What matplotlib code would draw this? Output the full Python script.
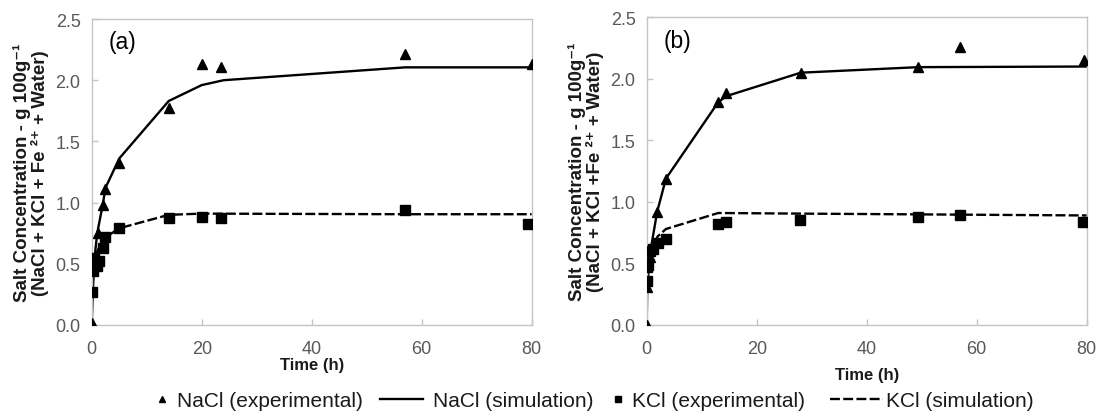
import matplotlib
matplotlib.use("Agg")
import matplotlib.pyplot as plt

plt.rcParams['font.family'] = ['Liberation Sans', 'DejaVu Sans']

# ---------------- data ----------------
# Panel (a)
a_nacl_exp_t = [0, 0.5, 1.2, 2.0, 2.5, 5.0, 14.0, 20.0, 23.5, 57.0, 80.0]
a_nacl_exp_c = [0.02, 0.55, 0.75, 0.98, 1.11, 1.32, 1.77, 2.13, 2.105, 2.21, 2.13]
a_nacl_sim_t = [0, 0.4, 1.0, 2.0, 2.5, 5.0, 14.0, 20.0, 24.0, 57.0, 80.0]
a_nacl_sim_c = [0.0, 0.50, 0.75, 0.98, 1.12, 1.36, 1.83, 1.96, 2.0, 2.105, 2.105]
a_kcl_exp_t = [0, 0.25, 0.5, 0.8, 1.0, 1.3, 2.0, 2.4, 5.0, 14.0, 20.0, 23.5, 57.0, 79.4]
a_kcl_exp_c = [0.27, 0.44, 0.55, 0.50, 0.48, 0.52, 0.63, 0.72, 0.79, 0.875, 0.885, 0.875, 0.94, 0.825]
a_kcl_sim_t = [0, 0.5, 1.0, 2.0, 5.0, 14.0, 20.0, 57.0, 80.0]
a_kcl_sim_c = [0.25, 0.50, 0.60, 0.70, 0.79, 0.90, 0.91, 0.905, 0.905]

# Panel (b)
b_nacl_exp_t = [0, 0.1, 0.6, 1.9, 3.5, 13.0, 14.5, 28.0, 49.4, 57.0, 79.5]
b_nacl_exp_c = [0.0, 0.31, 0.55, 0.92, 1.19, 1.81, 1.885, 2.05, 2.095, 2.255, 2.155]
b_nacl_sim_t = [0, 0.1, 0.6, 1.9, 3.5, 13.0, 14.5, 28.0, 49.4, 80.0]
b_nacl_sim_c = [0.0, 0.31, 0.58, 0.92, 1.19, 1.81, 1.86, 2.05, 2.095, 2.1]
b_kcl_exp_t = [0, 0.1, 0.3, 0.6, 1.2, 2.0, 3.45, 13.0, 14.5, 27.9, 49.4, 57.0, 79.4]
b_kcl_exp_c = [0.36, 0.47, 0.49, 0.60, 0.62, 0.67, 0.70, 0.82, 0.84, 0.855, 0.875, 0.89, 0.84]
b_kcl_sim_t = [0.6, 1.0, 2.0, 3.5, 13.0, 28.0, 80.0]
b_kcl_sim_c = [0.57, 0.63, 0.72, 0.78, 0.91, 0.905, 0.89]

x_ticks = [0, 20, 40, 60, 80]
y_ticks = [0.0, 0.5, 1.0, 1.5, 2.0, 2.5]
y_ticklabels = ["0.0", "0.5", "1.0", "1.5", "2.0", "2.5"]

panel_labels = ["(a)", "(b)"]
ylabels = [
    "Salt Concentration - g 100g\u207b\u00b9\n(NaCl + KCl + Fe \u00b2\u207a + Water)",
    "Salt Concentration - g 100g\u207b\u00b9\n(NaCl + KCl +Fe \u00b2\u207a + Water)",
]
xlabel = "Time (h)"
legend_labels = ["NaCl (experimental)", "NaCl (simulation)", "KCl (experimental)", "KCl (simulation)"]

# ---------------- figure ----------------
W, H = 1097, 414
fig = plt.figure(figsize=(W / 100, H / 100), dpi=100)

SPINE = "#c4c4c4"
TICKC = "#595959"

axes_px = [(91.7, 531.7, 20.0, 326.0), (646.7, 1086.7, 18.3, 326.0)]
panels = [
    (a_nacl_exp_t, a_nacl_exp_c, a_nacl_sim_t, a_nacl_sim_c,
     a_kcl_exp_t, a_kcl_exp_c, a_kcl_sim_t, a_kcl_sim_c),
    (b_nacl_exp_t, b_nacl_exp_c, b_nacl_sim_t, b_nacl_sim_c,
     b_kcl_exp_t, b_kcl_exp_c, b_kcl_sim_t, b_kcl_sim_c),
]
xlabel_pads = [0, 7]

handles = None
for i, ((x0, x1, yt, yb), data) in enumerate(zip(axes_px, panels)):
    ax = fig.add_axes([x0 / W, 1 - yb / H, (x1 - x0) / W, (yb - yt) / H])
    ne_t, ne_c, ns_t, ns_c, ke_t, ke_c, ks_t, ks_c = data
    l_ns, = ax.plot(ns_t, ns_c, color="black", lw=1.7, zorder=2)
    l_ks, = ax.plot(ks_t, ks_c, color="black", lw=1.7, linestyle=(0, (4.2, 1.4)), zorder=2)
    l_ne, = ax.plot(ne_t, ne_c, linestyle="none", marker="^", ms=6.5, color="black", zorder=3)
    l_ke, = ax.plot(ke_t, ke_c, linestyle="none", marker="s", ms=6.5, color="black", zorder=3)
    handles = [l_ne, l_ns, l_ke, l_ks]

    ax.set_xlim(0, 80)
    ax.set_ylim(0, 2.5)
    ax.set_xticks(x_ticks)
    ax.set_yticks(y_ticks)
    ax.set_yticklabels(y_ticklabels)
    for s in ax.spines.values():
        s.set_color(SPINE)
        s.set_linewidth(1.0)
    ax.tick_params(direction="in", length=4, width=1, color=SPINE,
                   labelcolor=TICKC, labelsize=13)
    ax.tick_params(axis="y", pad=8)
    ax.tick_params(axis="x", pad=11)
    ax.set_xlabel(xlabel, fontsize=12, fontweight="bold", color="#1a1a1a", labelpad=xlabel_pads[i])
    ax.set_ylabel(ylabels[i], fontsize=13.5, fontweight="bold", color="#1a1a1a",
                  labelpad=5, linespacing=0.95)
    ax.text(0.038, 0.925, panel_labels[i], transform=ax.transAxes, fontsize=16.5,
            color="black", va="center", ha="left")

# ---------------- legend (one entry per legend box) ----------------
fs = 15.0
fs_px = fs * 100 / 72.0
ly = 1 - 402 / H
leg_specs = [
    # handle index, left px, handlelength px, text start px
    (0, 151.5, 21.0, 176.7),
    (1, 380.0, 43.0, 433.0),
    (2, 607.5, 21.0, 632.0),
    (3, 830.0, 53.0, 886.0),
]
for idx, left, hl, tx in leg_specs:
    leg = fig.legend([handles[idx]], [legend_labels[idx]], loc="center left",
                     bbox_to_anchor=(left / W, ly), frameon=False, fontsize=fs,
                     handlelength=hl / fs_px, handletextpad=(tx - left - hl) / fs_px,
                     borderpad=0, borderaxespad=0, markerscale=0.75)
    for t in leg.get_texts():
        t.set_color("#1a1a1a")

fig.savefig("out.png", dpi=100)
